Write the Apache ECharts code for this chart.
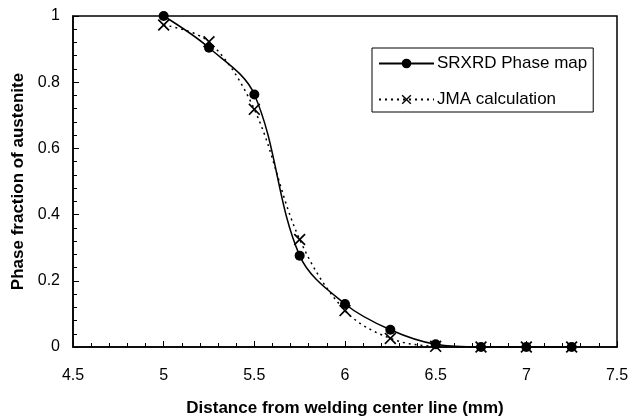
<!DOCTYPE html>
<html><head><meta charset="utf-8">
<script src="https://cdn.jsdelivr.net/npm/echarts@6/dist/echarts.min.js"></script>
<style>html,body{margin:0;padding:0;background:#fff}#c{width:629px;height:419px}</style>
</head><body><div id="c"></div>
<script>
const distances = [5, 5.25, 5.5, 5.75, 6, 6.25, 6.5, 6.75, 7, 7.25];
const srxrd = [1.0, 0.904, 0.763, 0.276, 0.13, 0.052, 0.008, 0, 0, 0];
const jma = [0.973, 0.922, 0.718, 0.325, 0.11, 0.026, 0.002, 0, 0, 0];
const seriesNames = ['SRXRD Phase map', 'JMA calculation'];
const xLabel = 'Distance from welding center line (mm)';
const yLabel = 'Phase fraction of austenite';

const font = 'Liberation Sans, Arial, sans-serif';
const crossPath = 'path://M0,1L1,0L5,4L9,0L10,1L6,5L10,9L9,10L5,6L1,10L0,9L4,5Z';
const chart = echarts.init(document.getElementById('c'), null, {renderer:'canvas'});
chart.setOption({
  animation:false,
  backgroundColor:'#fff',
  grid:{left:73, right:12, top:16, bottom:72, show:true, borderColor:'#000', borderWidth:1.5, containLabel:false, outerBoundsMode:'none'},
  legend:{
    orient:'vertical', left:372, top:48,
    backgroundColor:'#fff', borderColor:'#000', borderWidth:1,
    padding:[7,6,4,6], itemWidth:55, itemHeight:12, itemGap:19,
    textStyle:{fontFamily:font, fontSize:17, color:'#000', padding:[0,0,0,-2]},
    data:seriesNames
  },
  xAxis:{
    type:'value', min:4.5, max:7.5, interval:0.5,
    name:xLabel, nameLocation:'middle', nameGap:53,
    nameTextStyle:{fontFamily:font, fontSize:17, fontWeight:'bold', color:'#000'},
    axisLine:{lineStyle:{color:'#000', width:1.5}},
    axisTick:{inside:true, length:6, lineStyle:{color:'#000'}},
    minorTick:{show:true, splitNumber:5, length:4, lineStyle:{color:'#000'}},
    axisLabel:{fontFamily:font, fontSize:16, color:'#000', margin:21},
    splitLine:{show:false}
  },
  yAxis:{
    type:'value', min:0, max:1, interval:0.2,
    name:yLabel, nameLocation:'middle', nameGap:45,
    nameTextStyle:{fontFamily:font, fontSize:17, fontWeight:'bold', color:'#000'},
    axisLine:{lineStyle:{color:'#000', width:1.5}},
    axisTick:{inside:true, length:6, lineStyle:{color:'#000'}},
    minorTick:{show:true, splitNumber:5, length:4, lineStyle:{color:'#000'}},
    axisLabel:{fontFamily:font, fontSize:16, color:'#000', margin:13},
    splitLine:{show:false}
  },
  series:[
    {
      name:seriesNames[0], type:'line', smooth:0.35,
      data:distances.map((d,i)=>[d, srxrd[i]]),
      symbol:'circle', symbolSize:10,
      lineStyle:{color:'#000', width:1.5},
      itemStyle:{color:'#000'}, z:3
    },
    {
      name:seriesNames[1], type:'line', smooth:0.35,
      data:distances.map((d,i)=>[d, jma[i]]),
      symbol:crossPath, symbolSize:12,
      lineStyle:{color:'#000', width:1.5, type:[2,4]},
      itemStyle:{color:'#000'}, z:2
    }
  ]
});
</script></body></html>
